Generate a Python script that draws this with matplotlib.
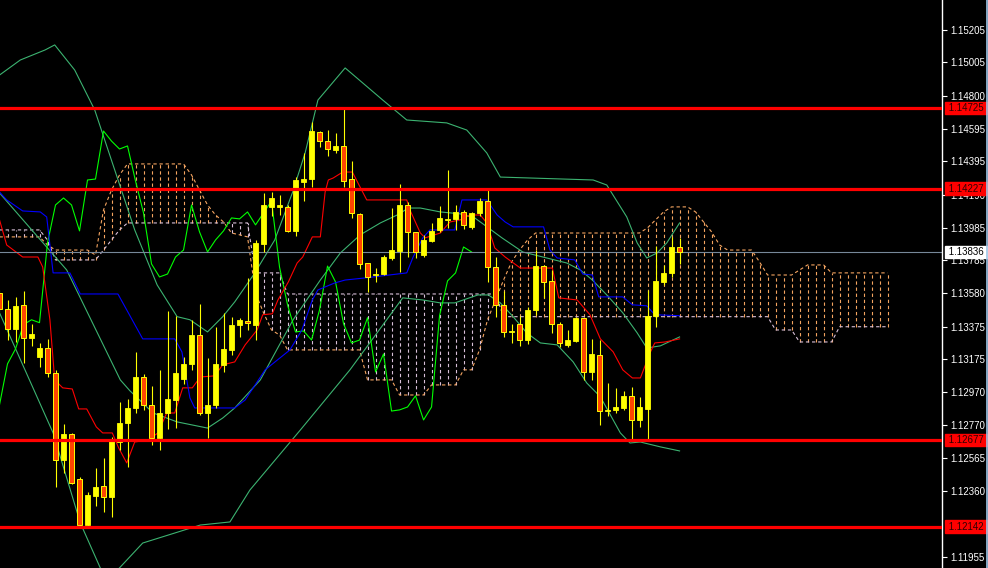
import matplotlib
matplotlib.use("Agg")
import matplotlib.pyplot as plt
import numpy as np

# OHLC (one bar per index)
opens = [1.13583, 1.13485, 1.13363, 1.13510, 1.13306, 1.13189, 1.13244, 1.13090, 1.12553, 1.12713,
         1.12436, 1.12152, 1.12332, 1.12393, 1.12325, 1.12664, 1.12781, 1.12874, 1.13065, 1.12893,
         1.12689, 1.12843, 1.12923, 1.13053, 1.13146, 1.13324, 1.12843, 1.12893, 1.13140, 1.13232,
         1.13388, 1.13412, 1.13388, 1.13886, 1.14114, 1.14114, 1.14114, 1.13966, 1.14268, 1.14286,
         1.14576, 1.14520, 1.14465, 1.14490, 1.14286, 1.14071, 1.13768, 1.13694, 1.13700, 1.13799,
         1.13842, 1.14126, 1.13960, 1.13817, 1.13904, 1.13972, 1.14034, 1.14040, 1.14083, 1.13991,
         1.14077, 1.14150, 1.13743, 1.13510, 1.13343, 1.13394, 1.13293, 1.13479, 1.13749, 1.13658,
         1.13394, 1.13263, 1.13287, 1.13431, 1.13096, 1.13201, 1.12855, 1.12862, 1.12874, 1.12949,
         1.12800, 1.12868, 1.13443, 1.13651, 1.13707, 1.13867]
highs = [1.13602, 1.13540, 1.13559, 1.13596, 1.13394, 1.13275, 1.13300, 1.13109, 1.12775, 1.12720,
         1.12449, 1.12356, 1.12504, 1.12566, 1.12695, 1.12911, 1.12929, 1.13220, 1.13084, 1.13010,
         1.13109, 1.13473, 1.13443, 1.13189, 1.13418, 1.13516, 1.13183, 1.13375, 1.13461, 1.13437,
         1.13431, 1.13676, 1.13910, 1.14200, 1.14206, 1.14187, 1.14126, 1.14298, 1.14447, 1.14638,
         1.14582, 1.14588, 1.14570, 1.14718, 1.14397, 1.14077, 1.13768, 1.13737, 1.13817, 1.14107,
         1.14255, 1.14144, 1.13960, 1.13942, 1.14015, 1.14120, 1.14342, 1.14126, 1.14095, 1.14083,
         1.14169, 1.14218, 1.13805, 1.13596, 1.13394, 1.13443, 1.13498, 1.13848, 1.13756, 1.13725,
         1.13406, 1.13355, 1.13437, 1.13431, 1.13300, 1.13293, 1.13029, 1.12998, 1.12980, 1.13004,
         1.12943, 1.13602, 1.13873, 1.13756, 1.13929, 1.13923]
lows = [1.13467, 1.13293, 1.13281, 1.13152, 1.13257, 1.13127, 1.13065, 1.12387, 1.12473, 1.12406,
        1.12140, 1.12140, 1.12270, 1.12233, 1.12202, 1.12615, 1.12510, 1.12843, 1.12862, 1.12646,
        1.12615, 1.12744, 1.12750, 1.13023, 1.13109, 1.12831, 1.12689, 1.12874, 1.13096, 1.13201,
        1.13312, 1.13355, 1.13293, 1.13836, 1.14058, 1.14064, 1.13960, 1.13935, 1.14150, 1.14237,
        1.14483, 1.14428, 1.14447, 1.14237, 1.14046, 1.13731, 1.13590, 1.13651, 1.13694, 1.13787,
        1.13713, 1.13805, 1.13799, 1.13805, 1.13898, 1.13960, 1.13985, 1.13972, 1.13979, 1.13979,
        1.14058, 1.13651, 1.13437, 1.13312, 1.13275, 1.13257, 1.13269, 1.13449, 1.13553, 1.13337,
        1.13251, 1.13251, 1.13281, 1.13047, 1.13047, 1.12769, 1.12825, 1.12843, 1.12862, 1.12677,
        1.12757, 1.12677, 1.13375, 1.13633, 1.13682, 1.13762]
closes = [1.13485, 1.13363, 1.13504, 1.13306, 1.13331, 1.13244, 1.13090, 1.12553, 1.12713, 1.12412,
          1.12152, 1.12338, 1.12387, 1.12325, 1.12677, 1.12781, 1.12874, 1.13065, 1.12893, 1.12689,
          1.12843, 1.12929, 1.13090, 1.13146, 1.13324, 1.12843, 1.12893, 1.13146, 1.13238, 1.13388,
          1.13418, 1.13400, 1.13892, 1.14126, 1.14169, 1.14126, 1.13966, 1.14280, 1.14286, 1.14582,
          1.14520, 1.14471, 1.14490, 1.14274, 1.14077, 1.13762, 1.13682, 1.13700, 1.13805, 1.13848,
          1.14126, 1.13960, 1.13836, 1.13910, 1.13966, 1.14046, 1.14040, 1.14083, 1.14003, 1.14077,
          1.14150, 1.13743, 1.13510, 1.13343, 1.13349, 1.13293, 1.13479, 1.13749, 1.13651, 1.13394,
          1.13275, 1.13293, 1.13431, 1.13096, 1.13207, 1.12855, 1.12862, 1.12880, 1.12949, 1.12800,
          1.12880, 1.13443, 1.13658, 1.13707, 1.13867, 1.13836]

# Tenkan-sen (red) vertices: bar position, price
tenkan_x = [0, 0.9, 2.9, 4.8, 5.4, 6.3, 6.9, 7.9, 9.1, 9.9, 10.9, 12.1, 12.9, 14.1, 14.9, 15.9, 16.9,
            18.6, 19.8, 20.9, 21.9, 22.9, 24.1, 25.1, 26.9, 27.9, 29.4, 30.7, 32.2, 32.9, 34.1, 34.8,
            36.1, 37.2, 37.9, 39.1, 40.1, 40.7, 41.1, 41.7, 42.9, 44.1, 45.9, 50.9, 51.3, 52.6, 53.2,
            55.1, 56.3, 57.6, 58.8, 60.1, 60.9, 61.9, 63.2, 65.1, 69.1, 69.9, 72.2, 73.8, 75.1, 76.7,
            77.9, 79.1, 80.1, 81.3, 81.9, 83.2, 85]
tenkan_p = [1.14034, 1.13879, 1.13805, 1.13805, 1.13743, 1.13418, 1.13047, 1.12998, 1.12991, 1.12868,
            1.12868, 1.12757, 1.12720, 1.12720, 1.12627, 1.12535, 1.12664, 1.12677, 1.12720, 1.12843,
            1.12843, 1.12998, 1.12998, 1.13065, 1.13072, 1.13140, 1.13158, 1.13263, 1.13355, 1.13449,
            1.13455, 1.13540, 1.13651, 1.13768, 1.13805, 1.13929, 1.13929, 1.14206, 1.14280, 1.14292,
            1.14329, 1.14329, 1.14157, 1.14157, 1.14095, 1.13953, 1.13923, 1.13953, 1.14021, 1.14034,
            1.14064, 1.14064, 1.14015, 1.13861, 1.13805, 1.13737, 1.13737, 1.13553, 1.13540, 1.13449,
            1.13300, 1.13220, 1.13109, 1.13059, 1.13059, 1.13213, 1.13275, 1.13281, 1.13300]

# Kijun-sen (blue)
kijun_x = [0, 0.9, 2.9, 5.1, 5.9, 6.7, 8.8, 10.1, 14.8, 17.9, 21.9, 22.8, 23.8, 24.4, 29.4, 30.7,
           33.2, 36.3, 37.8, 39.1, 39.8, 41.9, 43.2, 45.7, 50.9, 51.7, 52.9, 53.8, 56.9, 57.8, 60.9,
           62.2, 63.2, 64.2, 68, 68.8, 69.7, 71.9, 72.9, 74.1, 74.9, 77.9, 79.1, 80.9, 81.9, 85]
kijun_p = [1.14206, 1.14157, 1.14089, 1.14083, 1.14052, 1.13707, 1.13707, 1.13577, 1.13577, 1.13300,
           1.13300, 1.13220, 1.12936, 1.12874, 1.12874, 1.12923, 1.13109, 1.13232, 1.13355, 1.13540,
           1.13602, 1.13645, 1.13663, 1.13676, 1.13707, 1.13805, 1.13923, 1.13972, 1.13972, 1.14157,
           1.14157, 1.14064, 1.14021, 1.13991, 1.13991, 1.13848, 1.13799, 1.13787, 1.13700, 1.13694,
           1.13559, 1.13559, 1.13510, 1.13504, 1.13449, 1.13443]

# Bollinger bands (sea green)
bb_up_x = [0, 2.6, 5.7, 6.9, 9.4, 11.9, 14.4, 16.9, 19.7, 22.2, 23.8, 26, 27.9, 29.4, 31.9, 34.4,
           36.6, 38.2, 39.8, 43.2, 47.9, 50.9, 55.9, 58.4, 60.9, 62.6, 74.2, 75.9, 78.4, 79.7, 80.9,
           82.2, 83.4, 85]
bb_up_p = [1.14927, 1.15020, 1.15082, 1.15113, 1.14958, 1.14712, 1.14342, 1.13972, 1.13633, 1.13437,
           1.13418, 1.13343, 1.13437, 1.13528, 1.13706, 1.13910, 1.14200, 1.14447, 1.14773, 1.14971,
           1.14773, 1.14650, 1.14632, 1.14588, 1.14447, 1.14298, 1.14280, 1.14249, 1.14052, 1.13892,
           1.13799, 1.13830, 1.13892, 1.14015]
bb_mid_x = [0, 8.4, 15.1, 16.3, 19.2, 22.2, 26, 27.9, 29.4, 32.6, 36.7, 40.1, 42.6, 45.1, 47.6, 49.7,
            51.1, 52.6, 55.1, 57.6, 59.4, 61.1, 62.8, 65.4, 68.4, 70.9, 72.6, 74.1, 75.9, 77.9, 79.7,
            80.9, 82.6, 85]
bb_mid_p = [1.14200, 1.13725, 1.13047, 1.12980, 1.12843, 1.12788, 1.12750, 1.12812, 1.12874, 1.13047,
            1.13418, 1.13663, 1.13830, 1.13942, 1.14015, 1.14064, 1.14107, 1.14107, 1.14083, 1.14071,
            1.14046, 1.13985, 1.13923, 1.13836, 1.13799, 1.13768, 1.13725, 1.13663, 1.13571, 1.13461,
            1.13337, 1.13244, 1.13257, 1.13312]
bb_low_x = [0, 6.7, 10.1, 12.6, 13.8, 15.1, 17.9, 25.1, 28.8, 31.3, 37.6, 43.8, 50.4, 52.9, 55.1,
            56.9, 59.8, 61.1, 62.6, 64.2, 65.9, 67.6, 69.7, 71.7, 73.4, 75.1, 76.7, 77.6, 78.8, 80.1,
            82.6, 85]
bb_low_p = [1.13461, 1.12720, 1.12165, 1.11887, 1.11826, 1.11893, 1.12041, 1.12152, 1.12171, 1.12368,
            1.12738, 1.13109, 1.13553, 1.13540, 1.13522, 1.13522, 1.13571, 1.13571, 1.13522, 1.13437,
            1.13337, 1.13275, 1.13263, 1.13158, 1.13028, 1.12943, 1.12800, 1.12720, 1.12658, 1.12664,
            1.12634, 1.12609]

# Senkou spans (bars 0..111), stored as (price, number of bars)
span_a_runs = [(1.13929, 6), (1.13879, 1), (1.13848, 5), (1.13817, 1), (1.14095, 1), (1.14218, 1),
               (1.14311, 1), (1.14379, 8), (1.14311, 1), (1.14218, 1), (1.14126, 1), (1.14064, 1),
               (1.14021, 1), (1.13953, 1), (1.13942, 1), (1.13929, 1), (1.13583, 1), (1.13461, 1),
               (1.13355, 1), (1.13324, 1), (1.13232, 10), (1.13047, 4), (1.12954, 4), (1.13016, 4),
               (1.13109, 2), (1.13232, 1), (1.13418, 1), (1.13540, 1), (1.13663, 1), (1.13774, 1),
               (1.13848, 1), (1.13910, 1), (1.13953, 14), (1.13985, 1), (1.14034, 1), (1.14083, 1),
               (1.14114, 3), (1.14083, 1), (1.14021, 1), (1.13960, 1), (1.13879, 1), (1.13848, 4),
               (1.13774, 1), (1.13694, 4), (1.13725, 1), (1.13756, 3), (1.13707, 8)]
span_b_runs = [(1.13972, 6), (1.13910, 1), (1.13787, 6), (1.13848, 1), (1.13910, 1), (1.13972, 1),
               (1.14015, 16), (1.13707, 4), (1.13577, 27), (1.13437, 34), (1.13355, 3), (1.13281, 5),
               (1.13375, 7)]

levels = [1.14725, 1.14227, 1.12677, 1.12142]
bid = 1.13836
ticks = [1.15205, 1.15005, 1.14800, 1.14595, 1.14395, 1.14190, 1.13985, 1.13785, 1.13580,
         1.13375, 1.13175, 1.12970, 1.12770, 1.12565, 1.12360, 1.11955]

BG = "black"
fig = plt.figure(figsize=(9.88, 5.68), dpi=100, facecolor=BG)
ax = fig.add_axes([0, 0, 942 / 988, 1], facecolor=BG)

n = len(closes)
x = np.arange(n)

# cloud (dotted histogram between the spans)
span_a = np.concatenate([np.full(c, v) for v, c in span_a_runs])
span_b = np.concatenate([np.full(c, v) for v, c in span_b_runs])
xc = np.arange(len(span_a))
dash = (0, (3, 2.5))
for i in xc:
    col = "sandybrown" if span_a[i] >= span_b[i] else "thistle"
    ax.vlines(i, min(span_a[i], span_b[i]), max(span_a[i], span_b[i]),
              colors=col, linestyles=dash, lw=0.8, zorder=1)
ax.plot(xc, span_a, color="sandybrown", ls=dash, lw=0.8, zorder=1)
ax.plot(xc, span_b, color="thistle", ls=dash, lw=0.8, zorder=1)

# indicator lines
ax.plot(bb_up_x, bb_up_p, color="#3cb371", lw=0.8, zorder=2)
ax.plot(bb_mid_x, bb_mid_p, color="#3cb371", lw=0.8, zorder=2)
ax.plot(bb_low_x, bb_low_p, color="#3cb371", lw=0.8, zorder=2)
ax.plot(x[26:] - 26, closes[26:], color="#00ff00", lw=0.8, zorder=2)
ax.plot(tenkan_x, tenkan_p, color="red", lw=0.8, zorder=2)
ax.plot(kijun_x, kijun_p, color="blue", lw=0.8, zorder=2)

# bid line
ax.axhline(bid, color="#778899", lw=0.8, zorder=2)

# candles
o = np.array(opens); c = np.array(closes)
ax.vlines(x, lows, highs, colors="yellow", lw=0.8, zorder=3)
bull = c >= o
body = np.maximum(np.abs(c - o), 0.00002)
ax.bar(x[bull], body[bull], bottom=np.minimum(o, c)[bull], width=0.68,
       color="yellow", edgecolor="yellow", lw=0.6, zorder=4)
ax.bar(x[~bull], body[~bull], bottom=np.minimum(o, c)[~bull], width=0.68,
       color="orangered", edgecolor="yellow", lw=0.7, zorder=4)

# horizontal levels
for lv in levels:
    ax.axhline(lv, color="red", lw=2.3, zorder=5)

ax.set_xlim(0.0625, 117.8)
ax.set_ylim(1.11887, 1.15390)

ax.yaxis.tick_right()
ax.set_yticks(ticks)
ax.set_yticklabels([f"{t:.5f}" for t in ticks], family="Liberation Sans")
ax.tick_params(axis="y", colors="white", labelcolor="white", labelsize=7,
               length=3.5, width=0.8, pad=2.5)
ax.set_xticks([])
for s in ["left", "top", "bottom"]:
    ax.spines[s].set_visible(False)
ax.spines["right"].set_color("white")
ax.spines["right"].set_linewidth(1)

tr = ax.get_yaxis_transform()
for lv in levels:
    ax.text(1.004, lv, f" {lv:.5f} ", transform=tr, ha="left", va="center", fontsize=7,
            family="Liberation Sans", color="#300000", zorder=10, clip_on=False,
            bbox=dict(boxstyle="square,pad=0.12", fc="red", ec="red"))
ax.text(1.004, bid, f" {bid:.5f} ", transform=tr, ha="left", va="center", fontsize=7,
        family="Liberation Sans", color="black", zorder=10, clip_on=False,
        bbox=dict(boxstyle="square,pad=0.12", fc="white", ec="white"))

fig.add_artist(plt.Line2D([986.5 / 988, 986.5 / 988], [0, 1], color="#9fc7e8", lw=1.2))

fig.savefig("out.png", dpi=100, facecolor=BG)
